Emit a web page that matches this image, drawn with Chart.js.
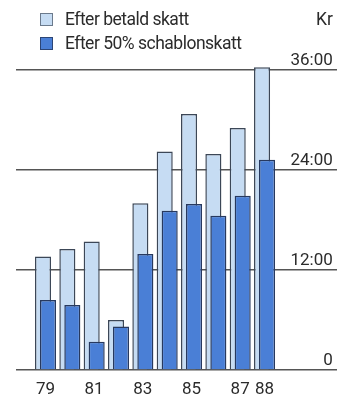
<!DOCTYPE html>
<html>
<head>
<meta charset="utf-8">
<script src="https://cdn.jsdelivr.net/npm/chart.js@4"></script>
<style>
  html, body { margin: 0; padding: 0; background: #fff; }
  .wrap { position: relative; width: 351px; height: 403px; }
  .legend { position: absolute; left: 40px; top: 7px; font: 17.5px Roboto, 'Liberation Sans', sans-serif; letter-spacing: -0.5px; color: #2b2b2b; line-height: 24px; }
  .legend div { position: relative; padding-left: 25px; white-space: nowrap; }
  .legend span { position: absolute; left: 0; top: 6px; width: 11px; height: 11px; border: 1px solid #6b7a8c; }
  .unit { position: absolute; right: 18px; top: 7px; font: 17.5px Roboto, 'Liberation Sans', sans-serif; color: #2b2b2b; line-height: 24px; }
</style>
</head>
<body>
<div class="wrap">
  <canvas id="chart" width="351" height="403"></canvas>
  <div class="legend">
    <div><span style="background:#c6dcf3"></span>Efter betald skatt</div>
    <div><span style="background:#4a7fd6;border-color:#2c4575"></span>Efter 50% schablonskatt</div>
  </div>
  <div class="unit">Kr</div>
</div>
<script>
const years = [79, 80, 81, 82, 83, 84, 85, 86, 87, 88]
const afterPaidTax = [13.6, 14.5, 15.4, 6.0, 20.0, 26.2, 30.7, 25.9, 29.0, 36.3]
const afterFlatTax = [8.4, 7.8, 3.4, 5.2, 13.9, 19.1, 19.9, 18.5, 20.9, 25.2]
const yearTicks = [79, 81, 83, 85, 87, 88]
const valueTicks = [0, 12, 24, 36]
const valueLabels = ['0', '12:00', '24:00', '36:00']

const font = {family: "Roboto, 'Liberation Sans', sans-serif", size: 17}
const setTicks = list => scale => { scale.ticks = list.map(v => ({value: v})) }

const hiddenX = (min, max) => ({
    type: 'linear', display: false, offset: false, min: min, max: max,
    grid: {offset: false},
    afterBuildTicks: setTicks(yearTicks)
})

const ctx = document.getElementById('chart').getContext('2d')
const chart = new Chart(ctx, {
    type: 'bar', data: {
        datasets: [{
            label: 'Efter betald skatt',
            data: years.map((y, i) => ({x: y, y: afterPaidTax[i]})),
            xAxisID: 'xl',
            backgroundColor: '#c6dcf3',
            borderColor: '#3c4757',
            borderWidth: 1.5,
            borderSkipped: 'bottom',
            grouped: false,
            categoryPercentage: 1,
            barPercentage: 0.66,
            order: 2
        }, {
            label: 'Efter 50% schablonskatt',
            data: years.map((y, i) => ({x: y, y: afterFlatTax[i]})),
            xAxisID: 'xd',
            backgroundColor: '#4a7fd6',
            borderColor: '#27395f',
            borderWidth: 1.5,
            borderSkipped: 'bottom',
            grouped: false,
            categoryPercentage: 1,
            barPercentage: 0.66,
            order: 1
        }]
    },
    options: {
        responsive: false,
        animation: false,
        layout: {padding: {left: 16, right: 14, top: 53, bottom: -6}},
        plugins: {legend: {display: false}, tooltip: {enabled: false}},
        scales: {
            x: {
                type: 'linear', offset: false, min: 77.79, max: 90.98,
                afterBuildTicks: setTicks(yearTicks),
                grid: {display: false, drawTicks: false, offset: false},
                border: {display: false},
                ticks: {font: {...font, lineHeight: 1}, color: '#2b2b2b', padding: 11, maxRotation: 0, autoSkip: false,
                    callback: v => String(v)}
            },
            xl: hiddenX(77.89, 91.08),
            xd: hiddenX(77.685, 90.875),
            y: {
                position: 'right', min: 0, max: 38,
                afterBuildTicks: setTicks(valueTicks),
                grid: {color: '#555', lineWidth: 1.6, drawTicks: false},
                border: {display: false},
                ticks: {font: font, color: '#2b2b2b', mirror: true, padding: 0, labelOffset: -9,
                    callback: v => valueLabels[valueTicks.indexOf(v)] + ' '}
            }
        }
    }
})
</script>
</body>
</html>
